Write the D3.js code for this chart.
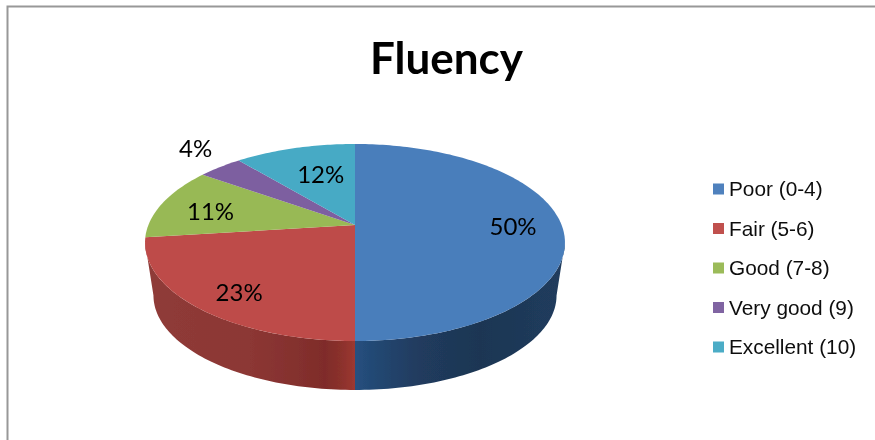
<!DOCTYPE html>
<html>
<head>
<meta charset="utf-8">
<script src="https://cdn.jsdelivr.net/npm/d3@7"></script>
<style>
  html, body { margin: 0; padding: 0; background: #fff; }
  svg { display: block; }
</style>
</head>
<body>
<div id="chart"></div>
<script>
const title = 'Fluency';
const categories = ['Poor (0-4)', 'Fair (5-6)', 'Good (7-8)', 'Very good (9)', 'Excellent (10)'];
const percents = [50, 23, 11, 4, 12];
const topColors = ['#4a7ebb', '#be4b48', '#98b954', '#7d5fa0', '#46aac5'];
const legendColors = ['#4f81bd', '#c0504d', '#9bbb59', '#8064a2', '#4bacc6'];

const width = 875, height = 440;

const svg = d3.select('#chart').append('svg')
  .attr('width', width)
  .attr('height', height);

const defs = svg.append('defs');
defs.append('filter').attr('id', 'soft')
  .append('feGaussianBlur').attr('stdDeviation', 0.6);
defs.append('filter').attr('id', 'soft-text')
  .attr('x', '-10%').attr('y', '-20%').attr('width', '120%').attr('height', '140%')
  .append('feGaussianBlur').attr('stdDeviation', 0.35);

// Wall shading runs left to right across the front of the pie
function wallGradient(id, stops) {
  const g = defs.append('linearGradient').attr('id', id)
    .attr('gradientUnits', 'userSpaceOnUse')
    .attr('x1', 145).attr('x2', 565).attr('y1', 0).attr('y2', 0);
  stops.forEach(([x, c]) => {
    g.append('stop').attr('offset', (x - 145) / 420).attr('stop-color', c);
  });
}
wallGradient('wall-blue', [[355, '#26507f'], [375, '#234873'], [420, '#203b5e'], [480, '#1e3653'], [565, '#203c5e']]);
wallGradient('wall-red', [[145, '#8f3b38'], [250, '#8c3734'], [325, '#7f2c2a'], [340, '#8a302c'], [355, '#9c3830']]);

// Frame, open on the right and at the bottom
svg.append('path')
  .attr('d', `M7.5,${height}V6.5H${width}`)
  .attr('fill', 'none')
  .attr('stroke', '#989898')
  .attr('stroke-width', 2);

svg.append('text')
  .attr('x', 446.5)
  .attr('y', 74)
  .attr('text-anchor', 'middle')
  .attr('font-family', 'Lato, sans-serif')
  .attr('font-weight', 700)
  .attr('font-size', 44)
  .attr('fill', '#000')
  .attr('filter', 'url(#soft-text)')
  .text(title);

/* ===== Pie ===== */

const cx = 355, cy = 225;
const tilt = 0.1777;    // perspective, pushes the apex above the ellipse centre
const gx = 206.6, gy = 95.4;
const depth = 53.6, shrink = 0.96;

// Circle position to screen position
function project(angle, r = 1) {
  // back-left quadrant reads a little tighter in the original
  const a = angle > 1.5 * Math.PI
    ? angle + 0.06 * Math.sin(2 * (angle - 1.5 * Math.PI))
    : angle;
  const u = Math.sin(a) * r;
  const v = -Math.cos(a) * r;
  const w = 1 - tilt * v;
  return [cx + gx * u / w, cy + gy * v / w];
}

function lower(p) {
  return [cx + shrink * (p[0] - cx), cy + shrink * (p[1] - cy) + depth];
}

function rim(a0, a1) {
  const n = Math.max(2, Math.ceil(Math.abs(a1 - a0) / 0.02));
  return d3.range(n + 1).map(i => project(a0 + (a1 - a0) * i / n));
}

const line = d3.line();
const arcs = d3.pie().sort(null)(percents);

const pieGroup = svg.append('g').attr('filter', 'url(#soft)');

// Side wall, only the part facing the viewer
const visStart = Math.PI / 2 + Math.asin(tilt);
const visEnd = 3 * Math.PI / 2 - Math.asin(tilt);
const wallFills = ['url(#wall-blue)', 'url(#wall-red)'];

arcs.forEach((d, i) => {
  const a0 = Math.max(d.startAngle, visStart);
  const a1 = Math.min(d.endAngle, visEnd);
  if (a1 <= a0) return;
  const upper = rim(a0, a1);
  pieGroup.append('path')
    .attr('d', line(upper.concat(upper.map(lower).reverse())) + 'Z')
    .attr('fill', wallFills[i]);
});

// Top faces
pieGroup.selectAll('path.slice')
  .data(arcs)
  .join('path')
  .attr('class', 'slice')
  .attr('d', d => line([[cx, cy]].concat(rim(d.startAngle, d.endAngle))) + 'Z')
  .attr('fill', (d, i) => topColors[i]);

/* ===== Data labels ===== */

// Hand placed like the originals: radius factor and a small nudge
const labelRadius = [0.765, 0.75, 0.76, 1.2, 0.55];
const labelNudge = [[0, 2], [-2, 8], [3, 4], [-1, -8], [0, -5]];

svg.selectAll('text.pct')
  .data(arcs)
  .join('text')
  .attr('class', 'pct')
  .attr('transform', (d, i) => {
    const p = project((d.startAngle + d.endAngle) / 2, labelRadius[i]);
    return `translate(${p[0] + labelNudge[i][0]},${p[1] + labelNudge[i][1]})`;
  })
  .attr('text-anchor', 'middle')
  .attr('dy', '0.35em')
  .attr('font-family', 'Lato, sans-serif')
  .attr('font-size', 24)
  .attr('fill', '#000')
  .attr('filter', 'url(#soft-text)')
  .text(d => d.data + '%');

/* ===== Legend ===== */

const legendY = d3.scalePoint().domain(categories).range([189, 347]);

const legend = svg.selectAll('g.legend')
  .data(categories)
  .join('g')
  .attr('class', 'legend')
  .attr('transform', d => `translate(713,${legendY(d)})`);

legend.append('rect')
  .attr('x', 0).attr('y', -5.5)
  .attr('width', 11).attr('height', 11)
  .attr('fill', (d, i) => legendColors[i]);

legend.append('text')
  .attr('x', 16)
  .attr('y', 7)
  .attr('font-family', '"Liberation Sans", Arial, sans-serif')
  .attr('font-size', 20.8)
  .attr('fill', '#111')
  .attr('filter', 'url(#soft-text)')
  .text(d => d);
</script>
</body>
</html>
